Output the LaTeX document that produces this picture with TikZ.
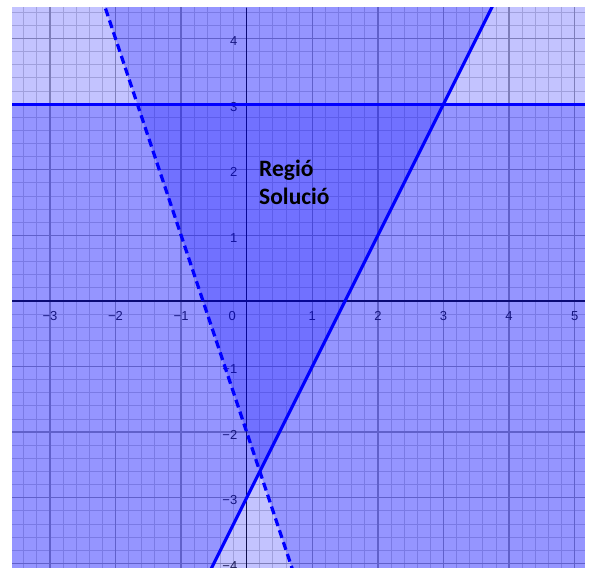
\documentclass[tikz,border=0pt]{standalone}
\usepackage{fontspec}
\setmainfont{Liberation Sans}
\newfontfamily\calib{Carlito}
\definecolor{gridmajor}{RGB}{165,165,165}
\definecolor{gridminor}{RGB}{210,210,210}
\definecolor{axiscol}{RGB}{20,20,20}
\definecolor{tickcol}{RGB}{40,40,40}
\definecolor{lineblue}{RGB}{0,0,255}
\begin{document}
\begin{tikzpicture}[x=65.6pt,y=65.6pt,
  minorgrid/.style={draw=gridminor,line width=0.9pt},
  majorgrid/.style={draw=gridmajor,line width=1.4pt},
  axisline/.style={draw=axiscol,line width=1.6pt},
  ticklbl/.style={text=tickcol,inner sep=0pt,font=\fontsize{13}{15}\selectfont},
  halfplane/.style={fill=lineblue,fill opacity=0.235},
  bound/.style={draw=lineblue,line width=3.2pt},
  regionlbl/.style={inner sep=0pt,anchor=base west,font=\calib\bfseries\fontsize{23.5}{28}\selectfont}]
\useasboundingbox (-3.761,-4.085) rectangle (5.249,4.588);
\fill[white] (-3.761,-4.085) rectangle (5.249,4.588);
\begin{scope}
\clip (-3.578,-4.07) rectangle (5.157,4.466);
\fill[white] (-3.578,-4.07) rectangle (5.157,4.466);
% grid
\draw[minorgrid,step=0.2] (-4,-5) grid (6,5);
\draw[majorgrid,step=1] (-4,-5) grid (6,5);
% axes
\coordinate (xl) at (-3.578,0);
\coordinate (xr) at (5.157,0);
\coordinate (yb) at (0,-4.07);
\coordinate (yt) at (0,4.466);
\draw[axisline] (xl) -- (xr);
\draw[axisline] (yb) -- (yt);
% tick labels
\foreach \x/\t in {-3/−3,-2/−2,-1/−1,1/1,2/2,3/3,4/4,5/5}
  \node[ticklbl] (tx\x) at (\x,-0.235) {\t};
\node[ticklbl] (t0) at (-0.22,-0.235) {0};
\foreach \y/\t in {-4/−4,-3/−3,-2/−2,-1/−1,1/1,2/2,3/3,4/4}
  \node[ticklbl,anchor=east] (ty\y) at (-0.14,\y-0.04) {\t};
% half-planes
\fill[halfplane] (-5,-5) rectangle (6,3);
\fill[halfplane] (-1,-5) -- (4,5) -- (-5,5) -- (-5,-5) -- cycle;
\fill[halfplane] (-2.3333,5) -- (1,-5) -- (6,-5) -- (6,5) -- cycle;
% boundary lines
\coordinate (h1) at (-4,3);
\coordinate (h2) at (6,3);
\coordinate (s1) at (-1,-5);
\coordinate (s2) at (4,5);
\coordinate (d1) at (-2.3333,5);
\coordinate (d2) at (1,-5);
\draw[bound,line width=2.8pt] (h1) -- (h2);
\draw[bound] (s1) -- (s2);
\draw[bound,dash pattern=on 8pt off 4.5pt] (d1) -- (d2);
\end{scope}
\node[regionlbl] (reg) at (0.188,1.89) {Regió};
\node[regionlbl] (sol) at (0.188,1.463) {Solució};
\end{tikzpicture}
\end{document}
